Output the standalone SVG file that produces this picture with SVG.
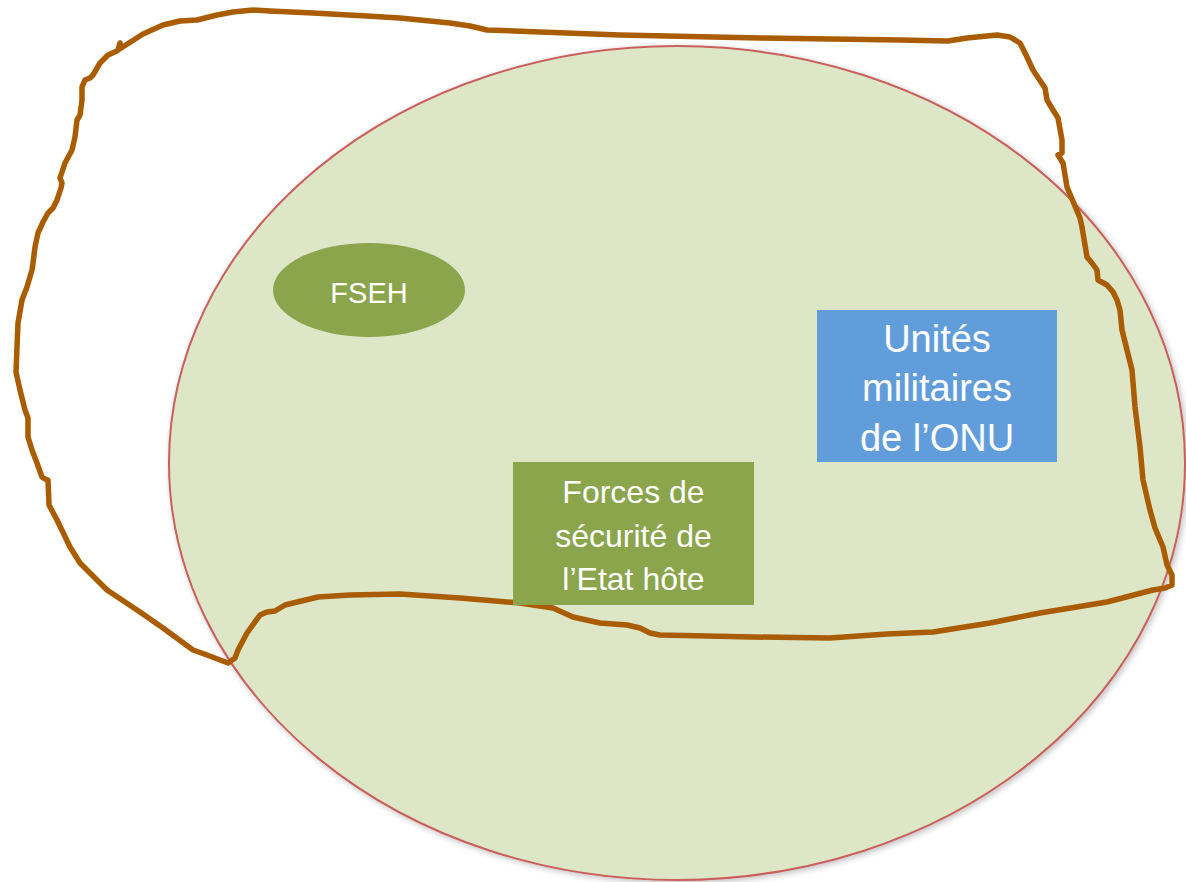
<svg xmlns="http://www.w3.org/2000/svg" width="1186" height="882" viewBox="0 0 1186 882">
<defs>
<style>
.lbl{font-family:"Liberation Sans","Arial",sans-serif;fill:#ffffff;text-anchor:middle}
.boundary{fill:none;stroke:#a95c00;stroke-width:5.5;stroke-linejoin:round;stroke-linecap:round}
</style>
<filter id="sh" x="-5%" y="-5%" width="110%" height="110%">
<feGaussianBlur in="SourceAlpha" stdDeviation="3"/>
<feOffset dx="2" dy="2" result="b"/>
<feComponentTransfer><feFuncA type="linear" slope="0.25"/></feComponentTransfer>
<feMerge><feMergeNode/><feMergeNode in="SourceGraphic"/></feMerge>
</filter>
</defs>
<rect width="1186" height="882" fill="#ffffff"/>
<g id="zone">
<ellipse cx="677" cy="463" rx="508" ry="417" fill="#dee6c8" stroke="#c9605c" stroke-width="2" filter="url(#sh)"/>
</g>
<g id="connectors">
<path class="boundary" d="M120,43 L118,50 L143,34 L163,25 L180,21 L197,20 L217,15 L233,12 L253,10 L270,11 L313,13 L367,16 L400,18 L450,23 L470,26 L487,30 L540,32 L620,35 L760,38 L900,40 L948,41 L967,38 L997,35 L1010,37 L1020,43 L1027,57 L1033,70 L1045,88 L1047,100 L1053,110 L1058,118 L1062,140 L1062,153 L1058,155 L1063,163 L1067,187 L1080,218 L1082,227 L1087,257 L1092,263 L1097,270 L1098,280 L1107,285 L1113,292 L1117,300 L1120,310 L1122,330 L1132,370 L1135,407 L1140,447 L1143,480 L1150,510 L1155,528 L1163,547 L1167,565 L1172,575 L1172,585 L1165,588 L1153,590 L1107,602 L1040,613 L990,623 L933,632 L887,634 L830,638 L753,637 L660,635 L650,633 L640,628 L627,625 L600,623 L573,617 L553,608 L520,603 L460,598 L400,594 L350,595 L318,597 L285,605 L275,611 L267,612 L260,615 L247,633 L238,650 L235,658 L228,663 L207,655 L193,650 L163,628 L140,612 L107,590 L80,563 L70,547 L57,520 L49,505 L48,480 L45,479 L42,477 L37,463 L32,450 L28,437 L28,418 L25,410 L20,390 L16,372 L17,347 L18,323 L22,300 L27,287 L32,270 L33,263 L35,247 L38,233 L43,222 L48,213 L53,208 L57,200 L61,188 L62,183 L60,178 L65,163 L72,150 L75,137 L77,120 L80,115 L82,100 L82,87 L85,80 L90,78 L93,75 L100,63 L108,55 L117,51"/>
</g>
<g id="fseh">
<ellipse cx="369" cy="290" rx="96" ry="47" fill="#8aa54c"/>
<text class="lbl" x="369" y="303" font-size="29">FSEH</text>
</g>
<g id="unites">
<rect x="817" y="310" width="240" height="152" fill="#629ddb"/>
<text class="lbl" font-size="38"><tspan x="937" y="352">Unités</tspan><tspan x="937" y="401">militaires</tspan><tspan x="937" y="451">de l’ONU</tspan></text>
</g>
<g id="forces">
<rect x="513" y="462" width="241" height="143" fill="#8aa54c"/>
<text class="lbl" font-size="32"><tspan x="633.5" y="503">Forces de</tspan><tspan x="633.5" y="547">sécurité de</tspan><tspan x="633.5" y="590">l’Etat hôte</tspan></text>
</g>
</svg>
